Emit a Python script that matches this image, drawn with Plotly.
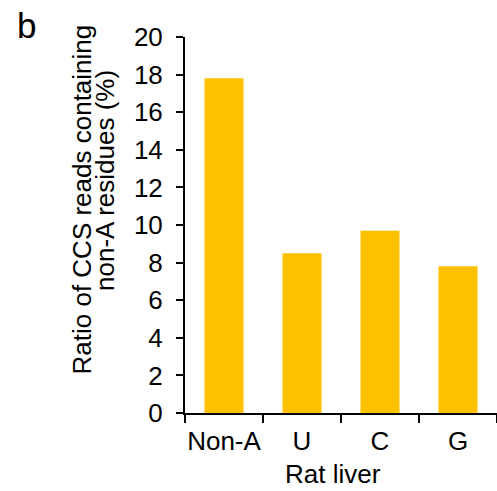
import plotly.graph_objects as go

# Share of CCS reads with non-A residues in the poly(A) tail, rat liver
categories = ["Non-A", "U", "C", "G"]
ratio_pct = [17.8, 8.5, 9.7, 7.8]
y_ticks = [0, 2, 4, 6, 8, 10, 12, 14, 16, 18, 20]

W, H = 497, 491
L, R, T, B = 185, 0, 37, 78
pw, ph = W - L - R, H - T - B


def px(x):
    return (x - L) / pw


def py(y):
    return (H - B - y) / ph


FONT = "Liberation Sans, Arial, sans-serif"
FS = 26

fig = go.Figure(
    go.Bar(
        x=categories,
        y=ratio_pct,
        marker=dict(color="#FFC000", line=dict(width=0)),
    )
)

fig.update_layout(
    width=W,
    height=H,
    margin=dict(l=L, r=R, t=T, b=B),
    paper_bgcolor="white",
    plot_bgcolor="white",
    bargap=0.5,
    showlegend=False,
    font=dict(family=FONT, size=FS, color="black"),
)

fig.update_xaxes(
    type="category",
    showline=True,
    linecolor="black",
    linewidth=2,
    ticks="outside",
    tickson="boundaries",
    ticklen=8,
    tickwidth=2,
    tickcolor="black",
    showgrid=False,
    tickangle=0,
    ticklabelstandoff=4,
    tickfont=dict(size=FS),
)

fig.update_yaxes(
    range=[0, 20],
    tickvals=y_ticks,
    showline=True,
    linecolor="black",
    linewidth=2,
    ticks="outside",
    ticklen=7,
    tickwidth=2,
    tickcolor="black",
    showgrid=False,
    zeroline=False,
    ticklabelstandoff=8,
    tickfont=dict(size=FS),
)

annotations = [
    dict(text="Ratio of CCS reads containing", x=px(81), y=py(199.5),
         textangle=-90, font=dict(size=FS)),
    dict(text="non-A residues (%)", x=px(105), y=py(181),
         textangle=-90, font=dict(size=FS)),
    dict(text="Rat liver", x=px(332.5), y=py(474), font=dict(size=FS)),
    dict(text="b", x=px(26), y=py(26), font=dict(size=35)),
]
for a in annotations:
    fig.add_annotation(xref="paper", yref="paper", showarrow=False,
                       xanchor="center", yanchor="middle", **a)

fig.write_html("out.html")
